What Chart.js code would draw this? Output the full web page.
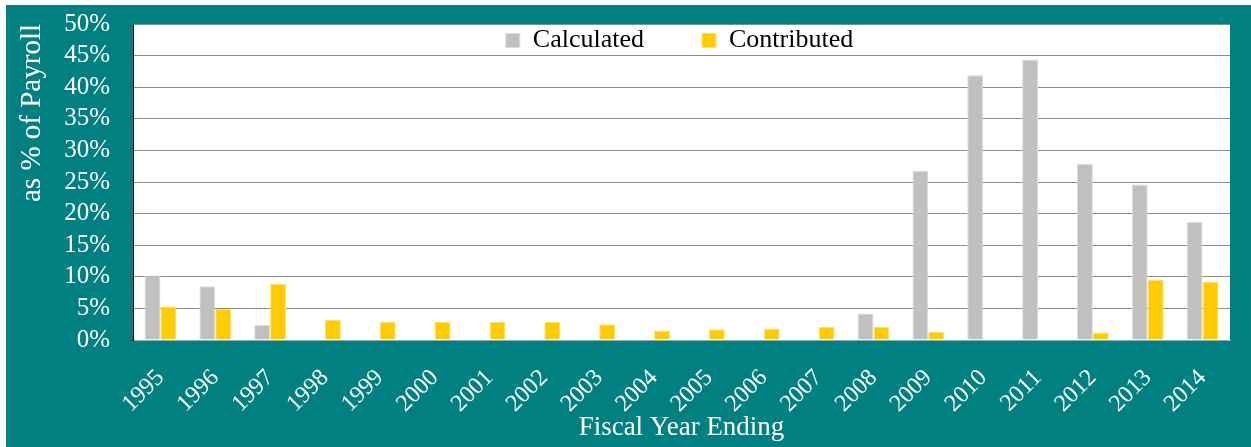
<!DOCTYPE html>
<html>
<head>
<meta charset="utf-8">
<title>Calculated vs Contributed</title>
<script src="https://cdn.jsdelivr.net/npm/chart.js@4/dist/chart.umd.min.js"></script>
<style>
    html, body { margin: 0; padding: 0; background: #fff; }
    #wrap { width: 1251px; height: 447px; position: relative; }
</style>
</head>
<body>
<div id="wrap"><canvas id="payrollChart"></canvas></div>
<script>
// Fiscal years on the x axis
const years = ['1995', '1996', '1997', '1998', '1999', '2000', '2001', '2002', '2003', '2004',
               '2005', '2006', '2007', '2008', '2009', '2010', '2011', '2012', '2013', '2014'];

// Rates as % of payroll
const calculated = [10.2, 8.5, 2.4, 0, 0, 0, 0, 0, 0, 0,
                    0, 0, 0, 4.2, 26.8, 41.9, 44.4, 27.9, 24.6, 18.7];
const contributed = [5.3, 4.9, 8.9, 3.2, 2.9, 2.9, 2.9, 2.9, 2.5, 1.5,
                     1.7, 1.8, 2.05, 2.1, 1.3, 0, 0, 1.2, 9.5, 9.2];

const yTicks = [0, 5, 10, 15, 20, 25, 30, 35, 40, 45, 50];

const TEAL = '#008080';
const SERIF = "'Liberation Serif', 'Times New Roman', serif";

// Paint the teal frame and the white plot area, and move the legend inside the plot
const framePlugin = {
    id: 'frame',
    beforeDraw(chart) {
        const ctx = chart.ctx;
        const a = chart.chartArea;
        ctx.save();
        ctx.fillStyle = '#fff';
        ctx.fillRect(0, 0, chart.width, chart.height);
        ctx.fillStyle = TEAL;
        ctx.fillRect(6, 5, chart.width - 6, chart.height - 5);
        ctx.fillStyle = '#fff';
        ctx.fillRect(a.left, a.top, a.right - a.left, a.bottom - a.top);
        ctx.restore();

        const lg = chart.legend;
        const pad = lg.options.labels.padding;
        lg.left = a.left - 2;
        lg.right = a.right - 2;
        lg.width = a.right - a.left;
        lg.top = a.top + 3.5 - pad;
        lg.height = 120;
        lg.bottom = lg.top + lg.height;
    }
};

new Chart(document.getElementById('payrollChart'), {
    type: 'bar',
    data: {
        labels: years,
        datasets: [
            {
                label: 'Calculated',
                data: calculated,
                backgroundColor: '#c0c0c0',
                borderColor: '#dcdcdc',
                borderWidth: 1,
                categoryPercentage: 0.58,
                barPercentage: 1.0
            },
            {
                label: 'Contributed',
                data: contributed,
                backgroundColor: '#ffcc00',
                borderColor: '#ffe066',
                borderWidth: 1,
                categoryPercentage: 0.58,
                barPercentage: 1.0
            }
        ]
    },
    options: {
        responsive: true,
        maintainAspectRatio: false,
        animation: false,
        layout: {
            padding: { left: 6, top: 24, right: 21, bottom: 0 }
        },
        plugins: {
            legend: {
                position: 'top',
                align: 'center',
                maxHeight: 0.01,
                labels: {
                    color: '#000',
                    boxWidth: 14,
                    boxHeight: 14,
                    padding: 58,
                    font: { family: SERIF, size: 26 }
                }
            },
            tooltip: { enabled: false }
        },
        scales: {
            x: {
                afterFit: scale => { scale.height = 107; },
                grid: { display: false },
                border: { display: true, color: '#a8a8a8', width: 1 },
                ticks: {
                    color: '#fff',
                    minRotation: 45,
                    maxRotation: 45,
                    autoSkip: false,
                    padding: 16,
                    font: { family: SERIF, size: 24 }
                },
                title: {
                    display: true,
                    text: 'Fiscal Year Ending',
                    color: '#fff',
                    padding: { top: 0, bottom: 3 },
                    font: { family: SERIF, size: 27 }
                }
            },
            y: {
                min: 0,
                max: 50,
                afterFit: scale => {
                    scale.width = 127;
                    scale.paddingTop = 0;
                    scale.paddingBottom = 0;
                },
                afterBuildTicks: scale => { scale.ticks = yTicks.map(v => ({ value: v })); },
                grid: {
                    color: '#8c8c8c',
                    tickColor: '#555',
                    tickLength: 8,
                    lineWidth: 1
                },
                border: { display: true, color: '#000', width: 1 },
                ticks: {
                    color: '#fff',
                    padding: 15,
                    autoSkip: false,
                    font: { family: SERIF, size: 25 },
                    callback: v => v + '%'
                },
                title: {
                    display: true,
                    text: 'as % of Payroll',
                    align: 'end',
                    color: '#fff',
                    padding: { top: 9, bottom: 0 },
                    font: { family: SERIF, size: 29 }
                }
            }
        }
    },
    plugins: [framePlugin]
});
</script>
</body>
</html>
